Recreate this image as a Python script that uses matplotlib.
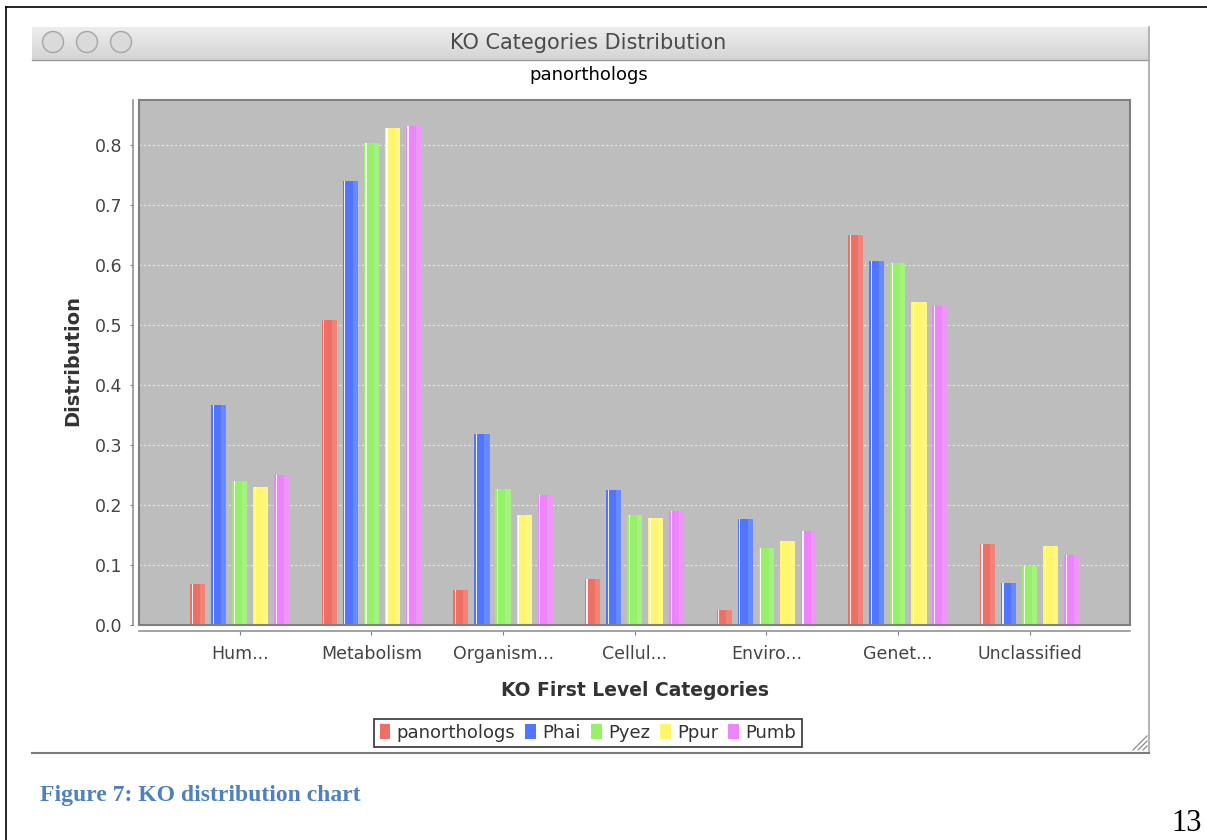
import numpy as np
import matplotlib.pyplot as plt
from matplotlib.patches import Circle, Patch, Rectangle
from matplotlib.lines import Line2D

W, H = 1207, 840

categories = ["Hum...", "Metabolism", "Organism...", "Cellul...",
              "Enviro...", "Genet...", "Unclassified"]
series = ["panorthologs", "Phai", "Pyez", "Ppur", "Pumb"]

panorthologs = [0.069, 0.508, 0.059, 0.077, 0.025, 0.650, 0.135]
phai = [0.367, 0.740, 0.318, 0.225, 0.176, 0.607, 0.070]
pyez = [0.240, 0.804, 0.227, 0.184, 0.128, 0.604, 0.098]
ppur = [0.230, 0.829, 0.184, 0.179, 0.140, 0.539, 0.132]
pumb = [0.250, 0.832, 0.217, 0.190, 0.157, 0.531, 0.116]

colors = ["#EE6F64", "#5275FF", "#96F06A", "#FFF66E", "#EC85F9"]


def fx(x):
    return x / W


def fy(y):
    return 1 - y / H


def inch(x, y):
    # pixel position (from top-left) -> inches for fig.dpi_scale_trans
    return x / 100, (H - y) / 100


fig = plt.figure(figsize=(W / 100, H / 100), dpi=100)
pix = fig.dpi_scale_trans

# page frame
fig.add_artist(Line2D([6 / 100, W / 100], [(H - 7) / 100] * 2, transform=pix, color="black", lw=1.2))
fig.add_artist(Line2D([6 / 100] * 2, [(H - 7) / 100, 0], transform=pix, color="black", lw=1.2))

# window title bar
tb = fig.add_axes([fx(32), fy(60), fx(1149) - fx(32), fy(27) - fy(60)])
grad = np.linspace(0.93, 0.83, 64).reshape(-1, 1)
tb.imshow(grad, cmap="gray", vmin=0, vmax=1, aspect="auto", extent=[0, 1, 0, 1])
tb.set_xlim(0, 1)
tb.set_ylim(0, 1)
tb.axis("off")

for cx in [53, 87, 121]:
    fig.add_artist(Circle(inch(cx, 42), 0.105, transform=pix,
                          facecolor="#DADADA", edgecolor="#A5A5A5", lw=1.0))
fig.text(fx(588), fy(43), "KO Categories Distribution", ha="center", va="center",
         fontsize=15, color="#4A4A4A")

# window edges
fig.add_artist(Line2D([32 / 100, 1149 / 100], [(H - 60) / 100] * 2, transform=pix, color="#9A9A9A", lw=1.0))
fig.add_artist(Line2D([1149 / 100] * 2, [(H - 27) / 100, (H - 753) / 100], transform=pix, color="#A8A8A8", lw=1.2))
fig.add_artist(Line2D([32 / 100, 1149 / 100], [(H - 753) / 100] * 2, transform=pix, color="#7A7A7A", lw=1.5))

# resize grip
for d in [4, 9, 14]:
    fig.add_artist(Line2D([(1147 - d) / 100, 1147 / 100], [(H - 750) / 100, (H - 750 + d) / 100],
                          transform=pix, color="#8C8C8C", lw=0.9))

fig.text(fx(589), fy(75), "panorthologs", ha="center", va="center", fontsize=13, color="black")

# plot area
ax = fig.add_axes([fx(139.3), fy(625), fx(1130) - fx(139.3), fy(100) - fy(625)])
ax.set_facecolor("#BDBDBD")
ax.set_xlim(-0.763, 6.763)
ax.set_ylim(0, 0.875)

x = np.arange(len(categories))
bw = 0.115
pitch = 0.16
for i, vals in enumerate([panorthologs, phai, pyez, ppur, pumb]):
    xs = x + (i - 2) * pitch
    ax.bar(xs, vals, width=bw, color=colors[i], linewidth=0, zorder=3)
    # light gradient band on the right side and thin highlight on the left
    ax.bar(xs + bw / 2 - 0.02, vals, width=0.04, color="white", alpha=0.15, linewidth=0, zorder=4)
    ax.bar(xs - bw / 2 + 0.016, vals, width=0.009, color="white", alpha=0.9, linewidth=0, zorder=4)

ax.set_yticks(np.arange(0, 0.81, 0.1))
ax.set_yticklabels([f"{v:.1f}" for v in np.arange(0, 0.81, 0.1)])
ax.set_xticks(x)
ax.set_xticklabels(categories)
ax.yaxis.grid(True, color="#E8E8E8", linestyle=(0, (2, 2)), linewidth=0.8)
ax.set_axisbelow(True)

for s in ["top", "right"]:
    ax.spines[s].set_visible(False)
ax.spines["left"].set_position(("outward", 4.7))
ax.spines["bottom"].set_position(("outward", 4.3))
for s in ["left", "bottom"]:
    ax.spines[s].set_color("#8A8A8A")
    ax.spines[s].set_linewidth(1.1)
ax.add_patch(Rectangle((0, 0), 1, 1, transform=ax.transAxes, fill=False,
                       edgecolor="#808080", lw=1.5, clip_on=False, zorder=6))

ax.tick_params(axis="y", length=2.5, width=0.8, color="#808080", pad=5,
               labelsize=12.5, labelcolor="#444444")
ax.tick_params(axis="x", length=3, width=0.8, color="#808080", pad=7,
               labelsize=12.5, labelcolor="#444444")

fig.text(fx(73), fy(361), "Distribution", rotation=90, ha="center", va="center",
         fontsize=14, fontweight="bold", color="#333333")
fig.text(fx(635), fy(691), "KO First Level Categories", ha="center", va="center",
         fontsize=13.5, fontweight="bold", color="#333333")

handles = [Patch(facecolor=c, edgecolor="none") for c in colors]
leg = fig.legend(handles, series, loc="center", bbox_to_anchor=(fx(588), fy(733)),
                 ncol=5, frameon=True, fancybox=False, edgecolor="black",
                 fontsize=13, handlelength=0.6, handleheight=0.9,
                 handletextpad=0.35, columnspacing=0.55, borderpad=0.3,
                 borderaxespad=0)
leg.get_frame().set_linewidth(1.2)
for t in leg.get_texts():
    t.set_color("#333333")

fig.text(fx(40), fy(796), "Figure 7: KO distribution chart", ha="left", va="center",
         family="Liberation Serif", fontweight="bold", fontsize=17, color="#4F81BD")
fig.text(fx(1171), fy(831), "13", ha="left", va="baseline",
         family="Liberation Serif", fontsize=22, color="black")

fig.savefig("out.png", dpi=100, facecolor="white")
